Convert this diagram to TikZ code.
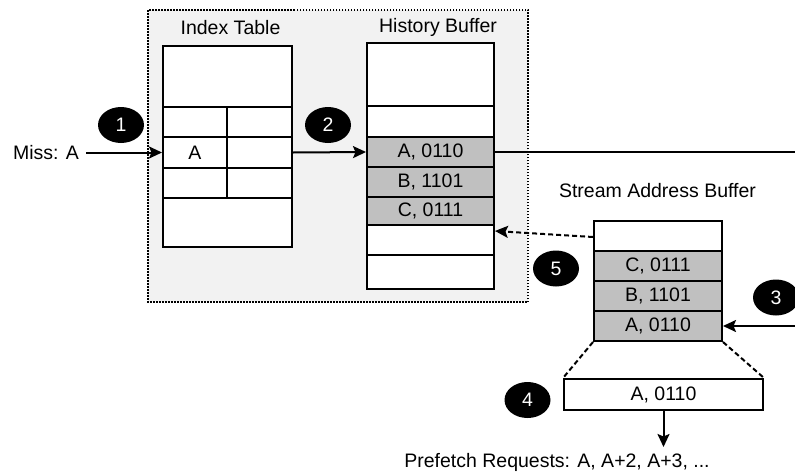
\documentclass[tikz,border=0pt]{standalone}
\usepackage{fontspec}
\setmainfont{Liberation Sans}
\usetikzlibrary{arrows.meta,shapes.geometric,calc}
\begin{document}
\begin{tikzpicture}[x=1pt,y=-1pt,
  txt/.style={font=\fontsize{19.5}{22}\selectfont, inner sep=0pt},
  cell/.style={draw, line width=2pt, fill=white, inner sep=0pt, txt},
  graycell/.style={cell, fill=cellgray},
  badge/.style={ellipse, fill=black, text=white, minimum width=46pt, minimum height=36pt, inner sep=0pt, font=\fontsize{19.5}{22}\selectfont},
  conn/.style={line width=2pt, -{Stealth[length=13pt,width=12pt,inset=2.5pt]}},
  dconn/.style={line width=2pt, dash pattern=on 5pt off 3pt},
  ]
\definecolor{cellgray}{HTML}{C0C0C0}
\definecolor{panel}{HTML}{F2F2F2}
\useasboundingbox (0,0) rectangle (795,474);
\fill[white] (0,0) rectangle (795,474);
% dotted panel
\draw[fill=panel, line width=1.3pt, dash pattern=on 1.5pt off 1.5pt] (148,10) rectangle (528,302);

% Index table
\node[txt] (itl) at (230.5,28) {Index Table};
\node[cell, minimum width=129pt, minimum height=61pt] (i1) at (227.5,76.5) {};
\node[cell, minimum width=64pt, minimum height=30pt] (i2a) at (195,122) {};
\node[cell, minimum width=65pt, minimum height=30pt] (i2b) at (259.5,122) {};
\node[cell, minimum width=64pt, minimum height=31pt] (i3a) at (195,152.5) {A};
\node[cell, minimum width=65pt, minimum height=31pt] (i3b) at (259.5,152.5) {};
\node[cell, minimum width=64pt, minimum height=30pt] (i4a) at (195,183) {};
\node[cell, minimum width=65pt, minimum height=30pt] (i4b) at (259.5,183) {};
\node[cell, minimum width=129pt, minimum height=49pt] (i5) at (227.5,222.5) {};

% History buffer
\node[txt] (htl) at (438,27) {History Buffer};
\node[cell, minimum width=127pt, minimum height=63pt] (h1) at (430.5,74.5) {};
\node[cell, minimum width=127pt, minimum height=31pt] (h2) at (430.5,121.5) {};
\node[graycell, minimum width=127pt, minimum height=30pt] (h3) at (430.5,152) {A, 0110};
\node[graycell, minimum width=127pt, minimum height=30pt] (h4) at (430.5,182) {B, 1101};
\node[graycell, minimum width=127pt, minimum height=28pt] (h5) at (430.5,211) {C, 0111};
\node[cell, minimum width=127pt, minimum height=30pt] (h6) at (430.5,240) {};
\node[cell, minimum width=127pt, minimum height=34pt] (h7) at (430.5,272) {};

% Stream address buffer
\node[txt] (stl) at (657.5,191) {Stream Address Buffer};
\node[cell, minimum width=128pt, minimum height=30pt] (s1) at (658,236) {};
\node[graycell, minimum width=128pt, minimum height=30pt] (s2) at (658,266) {C, 0111};
\node[graycell, minimum width=128pt, minimum height=30pt] (s3) at (658,296) {B, 1101};
\node[graycell, minimum width=128pt, minimum height=30pt] (s4) at (658,326) {A, 0110};

% Expanded entry
\node[cell, minimum width=199pt, minimum height=31pt] (e1) at (663.5,394.5) {A, 0110};
\draw[dconn] (s4.south west) -- (e1.north west);
\draw[dconn] (s4.south east) -- (e1.north east);

% texts
\node[txt] (miss) at (46,152.5) {Miss: A};
\node[txt] (pref) at (557,462) {Prefetch Requests: A, A+2, A+3, ...};

% coordinates
\coordinate (rend) at (795,152);
\coordinate (rin) at (795,326);
\coordinate (down) at (663.5,447);

% connectors
\draw[conn] (miss.east) ++(7,0) -- (i3a.west);
\draw[conn] (i3b.east) -- (h3.west);
\draw[line width=2pt] (h3.east) -- (rend);
\draw[conn] (rin) -- (s4.east);
\draw[dconn, -{Stealth[length=13pt,width=12pt,inset=2.5pt]}] ([yshift=-1pt]s1.west) -- ([yshift=-7pt]h6.north east);
\draw[conn] (e1.south) -- (down);

% badges
\node[badge] (b1) at (121,125) {1};
\node[badge] (b2) at (328,125) {2};
\node[badge] (b3) at (776,297.5) {3};
\node[badge] (b4) at (527.5,400) {4};
\node[badge] (b5) at (556,268.5) {5};
\end{tikzpicture}
\end{document}
